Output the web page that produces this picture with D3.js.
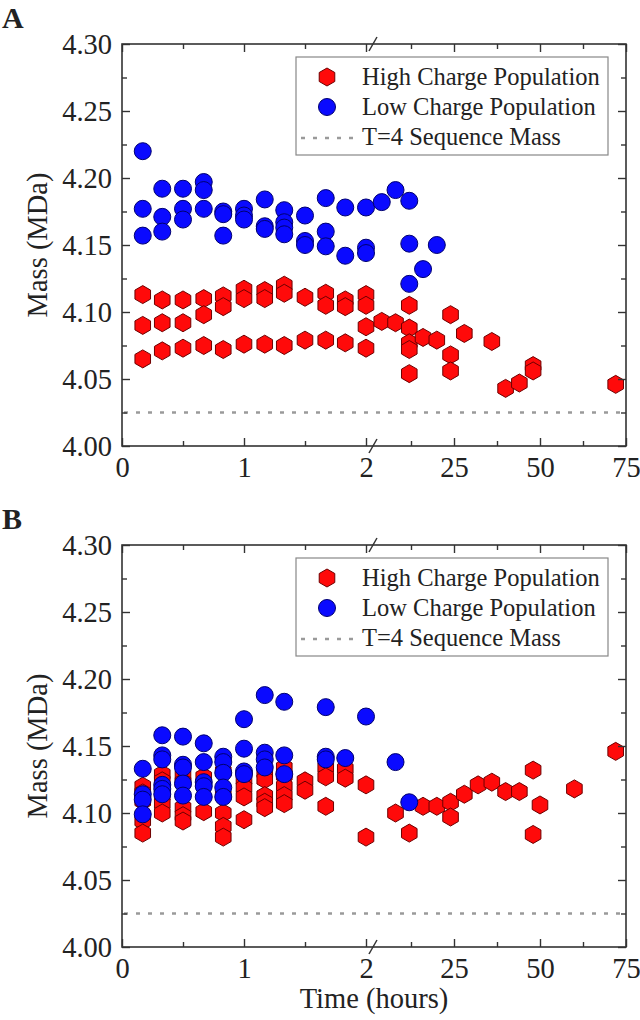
<!DOCTYPE html>
<html>
<head>
<meta charset="utf-8">
<script src="https://cdn.jsdelivr.net/npm/d3@7"></script>
<style>
  html, body { margin: 0; padding: 0; background: #fff; }
  svg { display: block; }
  text { font-family: "Liberation Serif", "Times New Roman", serif; fill: #222; }
</style>
</head>
<body>
<svg id="chart" width="640" height="1020"></svg>
<script>
// ---------------- DATA ----------------
const seriesNames = ["High Charge Population", "Low Charge Population", "T=4 Sequence Mass"];
const sequenceMass = 4.025;
const yTicksMajor = [4.00, 4.05, 4.10, 4.15, 4.20, 4.25, 4.30];
const yTicksMinor = [4.025, 4.075, 4.125, 4.175, 4.225, 4.275];
const xLeftTicks = [0, 1, 2];
const xLeftMinor = [0.5, 1.5];
const xRightTicks = [25, 50, 75];
const xRightMinor = [12.5, 37.5, 62.5];

// [time (hours), mass (MDa)]
const highA = [
  [0.17,4.113],[0.17,4.090],[0.17,4.065],
  [0.33,4.109],[0.33,4.092],[0.33,4.071],
  [0.5,4.109],[0.5,4.092],[0.5,4.073],
  [0.67,4.110],[0.67,4.098],[0.67,4.075],
  [0.83,4.112],[0.83,4.104],[0.83,4.072],
  [1.0,4.117],[1.0,4.110],[1.0,4.076],
  [1.17,4.116],[1.17,4.110],[1.17,4.076],
  [1.33,4.120],[1.33,4.114],[1.33,4.075],
  [1.5,4.111],[1.5,4.079],
  [1.67,4.114],[1.67,4.105],[1.67,4.079],
  [1.83,4.109],[1.83,4.104],[1.83,4.077],
  [2.0,4.113],[2.0,4.105],[2.0,4.089],[2.0,4.073],
  [4,4.093],[8,4.092],
  [12,4.105],[12,4.088],[12,4.077],[12,4.072],[12,4.054],
  [16,4.081],[20,4.079],
  [24,4.098],[24,4.068],[24,4.056],
  [28,4.084],[36,4.078],[40,4.043],[44,4.047],
  [48,4.060],[48,4.056],[72,4.046]
];
const lowA = [
  [0.17,4.220],[0.17,4.177],[0.17,4.157],
  [0.33,4.192],[0.33,4.171],[0.33,4.160],
  [0.5,4.192],[0.5,4.177],[0.5,4.169],
  [0.67,4.197],[0.67,4.191],[0.67,4.177],
  [0.83,4.175],[0.83,4.173],[0.83,4.157],
  [1.0,4.177],[1.0,4.172],[1.0,4.169],
  [1.17,4.184],[1.17,4.164],[1.17,4.162],
  [1.33,4.176],[1.33,4.167],[1.33,4.163],[1.33,4.158],
  [1.5,4.172],[1.5,4.153],[1.5,4.150],
  [1.67,4.185],[1.67,4.160],[1.67,4.149],
  [1.83,4.178],[1.83,4.142],
  [2.0,4.178],[2.0,4.148],[2.0,4.144],
  [4,4.182],[8,4.191],
  [12,4.183],[12,4.151],[12,4.121],
  [16,4.132],[20,4.150]
];
const highB = [
  [0.17,4.120],[0.17,4.115],[0.17,4.109],[0.17,4.094],[0.17,4.085],
  [0.33,4.129],[0.33,4.124],[0.33,4.113],[0.33,4.107],[0.33,4.100],
  [0.5,4.128],[0.5,4.123],[0.5,4.104],[0.5,4.098],[0.5,4.094],
  [0.67,4.127],[0.67,4.122],[0.67,4.101],
  [0.83,4.131],[0.83,4.113],[0.83,4.100],[0.83,4.090],[0.83,4.082],
  [1.0,4.125],[1.0,4.119],[1.0,4.112],[1.0,4.095],
  [1.17,4.130],[1.17,4.125],[1.17,4.113],[1.17,4.108],[1.17,4.104],
  [1.33,4.134],[1.33,4.128],[1.33,4.120],[1.33,4.113],[1.33,4.107],
  [1.5,4.124],[1.5,4.117],
  [1.67,4.134],[1.67,4.127],[1.67,4.105],
  [1.83,4.133],[1.83,4.126],
  [2.0,4.121],[2.0,4.082],
  [8,4.100],[12,4.085],[16,4.105],[20,4.105],
  [24,4.108],[24,4.097],[28,4.114],[32,4.121],[36,4.123],
  [40,4.116],[44,4.116],[48,4.132],[48,4.084],[50,4.106],
  [60,4.118],[72,4.146]
];
const lowB = [
  [0.17,4.133],[0.17,4.114],[0.17,4.110],[0.17,4.099],
  [0.33,4.158],[0.33,4.143],[0.33,4.140],[0.33,4.121],[0.33,4.118],[0.33,4.114],
  [0.5,4.157],[0.5,4.136],[0.5,4.134],[0.5,4.122],[0.5,4.113],
  [0.67,4.152],[0.67,4.138],[0.67,4.123],[0.67,4.120],[0.67,4.112],
  [0.83,4.142],[0.83,4.138],[0.83,4.130],[0.83,4.119],[0.83,4.112],
  [1.0,4.170],[1.0,4.148],[1.0,4.131],[1.0,4.129],
  [1.17,4.188],[1.17,4.145],[1.17,4.140],[1.17,4.134],
  [1.33,4.183],[1.33,4.143],[1.33,4.129],
  [1.67,4.179],[1.67,4.142],[1.67,4.140],
  [1.83,4.141],
  [2.0,4.172],
  [8,4.138],[12,4.108]
];

// ---------------- LAYOUT ----------------
const svg = d3.select("#chart");
const L = 122, R = 626, H = 402;
const panels = [
  { label: "A", top: 44, high: highA, low: lowA, xTitle: false },
  { label: "B", top: 545, high: highB, low: lowB, xTitle: true }
];
const xL = d3.scaleLinear().domain([0, 2]).range([L, L + 244]);
const xR = d3.scaleLinear().domain([0, 75]).range([L + 246, R]);
const breakX = xR(1.45);
const xPos = t => (t <= 2.01 ? xL(t) : xR(t));

const RED = "#ff0a0a", RED_S = "#6e0000";
const BLUE = "#0a0aff", BLUE_S = "#000070";
const hexR = 9, circR = 8.5;
function hexPath(cx, cy, r) {
  const pts = d3.range(6).map(k => {
    const a = (-90 + 60 * k) * Math.PI / 180;
    return [cx + r * Math.cos(a), cy + r * Math.sin(a)];
  });
  return "M" + pts.map(p => p.join(",")).join("L") + "Z";
}

const FONT = 28.5;

panels.forEach(p => {
  const y = d3.scaleLinear().domain([4.00, 4.30]).range([p.top + H, p.top]);
  const g = svg.append("g");
  const bottom = p.top + H;

  // dashed reference line
  g.append("line")
    .attr("x1", L + 2).attr("x2", R - 2)
    .attr("y1", y(sequenceMass)).attr("y2", y(sequenceMass))
    .attr("stroke", "#9a9a9a").attr("stroke-width", 2.5)
    .attr("stroke-dasharray", "4,8");

  // red hexagons
  g.append("g").selectAll("path").data(p.high).join("path")
    .attr("d", d => hexPath(xPos(d[0]), y(d[1]), hexR))
    .attr("fill", RED).attr("stroke", RED_S).attr("stroke-width", 1);

  // blue circles
  g.append("g").selectAll("circle").data(p.low).join("circle")
    .attr("cx", d => xPos(d[0])).attr("cy", d => y(d[1])).attr("r", circR)
    .attr("fill", BLUE).attr("stroke", BLUE_S).attr("stroke-width", 1);

  // axes
  const styleAxis = sel => {
    sel.select(".domain").remove();
    sel.selectAll(".tick line").attr("stroke", "#333").attr("stroke-width", 1.4);
    sel.selectAll(".tick text").attr("font-family", "Liberation Serif").attr("font-size", FONT).attr("fill", "#222");
  };
  g.append("g").attr("transform", `translate(${L},0)`)
    .call(d3.axisLeft(y).tickValues(yTicksMajor).tickSize(-8).tickPadding(10).tickFormat(d3.format(".2f")))
    .call(styleAxis);
  g.append("g").attr("transform", `translate(${L},0)`)
    .call(d3.axisLeft(y).tickValues(yTicksMinor).tickSize(-5).tickFormat(""))
    .call(styleAxis);
  g.append("g").attr("transform", `translate(${R},0)`)
    .call(d3.axisRight(y).tickValues(yTicksMajor).tickSize(-8).tickFormat(""))
    .call(styleAxis);
  g.append("g").attr("transform", `translate(${R},0)`)
    .call(d3.axisRight(y).tickValues(yTicksMinor).tickSize(-5).tickFormat(""))
    .call(styleAxis);

  [[xL, xLeftTicks, xLeftMinor], [xR, xRightTicks, xRightMinor]].forEach(([sc, maj, mn]) => {
    g.append("g").attr("transform", `translate(0,${bottom})`)
      .call(d3.axisBottom(sc).tickValues(maj).tickSize(-8).tickPadding(11).tickFormat(d3.format("d")))
      .call(styleAxis);
    g.append("g").attr("transform", `translate(0,${bottom})`)
      .call(d3.axisBottom(sc).tickValues(mn).tickSize(-5).tickFormat(""))
      .call(styleAxis);
    g.append("g").attr("transform", `translate(0,${p.top})`)
      .call(d3.axisTop(sc).tickValues(maj).tickSize(-8).tickFormat(""))
      .call(styleAxis);
    g.append("g").attr("transform", `translate(0,${p.top})`)
      .call(d3.axisTop(sc).tickValues(mn).tickSize(-5).tickFormat(""))
      .call(styleAxis);
  });

  // frame
  g.append("rect").attr("x", L).attr("y", p.top).attr("width", R - L).attr("height", H)
    .attr("fill", "none").attr("stroke", "#333").attr("stroke-width", 1.6);

  // axis break marks
  [p.top, bottom].forEach(yy => {
    g.append("line").attr("x1", breakX - 4).attr("y1", yy + 7)
      .attr("x2", breakX + 4).attr("y2", yy - 7)
      .attr("stroke", "#333").attr("stroke-width", 1.5);
  });

  // y title
  g.append("text")
    .attr("transform", `translate(40,${p.top + H / 2}) rotate(-90)`)
    .attr("text-anchor", "middle").attr("dominant-baseline", "middle")
    .attr("font-size", FONT).text("Mass (MDa)");

  // panel label
  g.append("text").attr("x", 2).attr("y", p.top - 16)
    .attr("font-size", 30).attr("font-weight", "bold").text(p.label);

  // legend
  const lg = g.append("g").attr("transform", `translate(296,${p.top + 13})`);
  lg.append("rect").attr("width", 312).attr("height", 98)
    .attr("fill", "#fff").attr("stroke", "#888").attr("stroke-width", 1.2);
  lg.append("path").attr("d", hexPath(31, 20, hexR))
    .attr("fill", RED).attr("stroke", RED_S).attr("stroke-width", 1);
  lg.append("circle").attr("cx", 31).attr("cy", 50).attr("r", circR)
    .attr("fill", BLUE).attr("stroke", BLUE_S).attr("stroke-width", 1);
  lg.append("line").attr("x1", 5).attr("x2", 62).attr("y1", 81).attr("y2", 81)
    .attr("stroke", "#9a9a9a").attr("stroke-width", 2.5).attr("stroke-dasharray", "4,8");
  seriesNames.forEach((s, i) => {
    lg.append("text").attr("x", 66).attr("y", 28 + i * 30)
      .attr("font-size", 24.5).text(s);
  });

  if (p.xTitle) {
    svg.append("text").attr("x", 374).attr("y", 1008)
      .attr("text-anchor", "middle").attr("font-size", FONT).text("Time (hours)");
  }
});
</script>
</body>
</html>
